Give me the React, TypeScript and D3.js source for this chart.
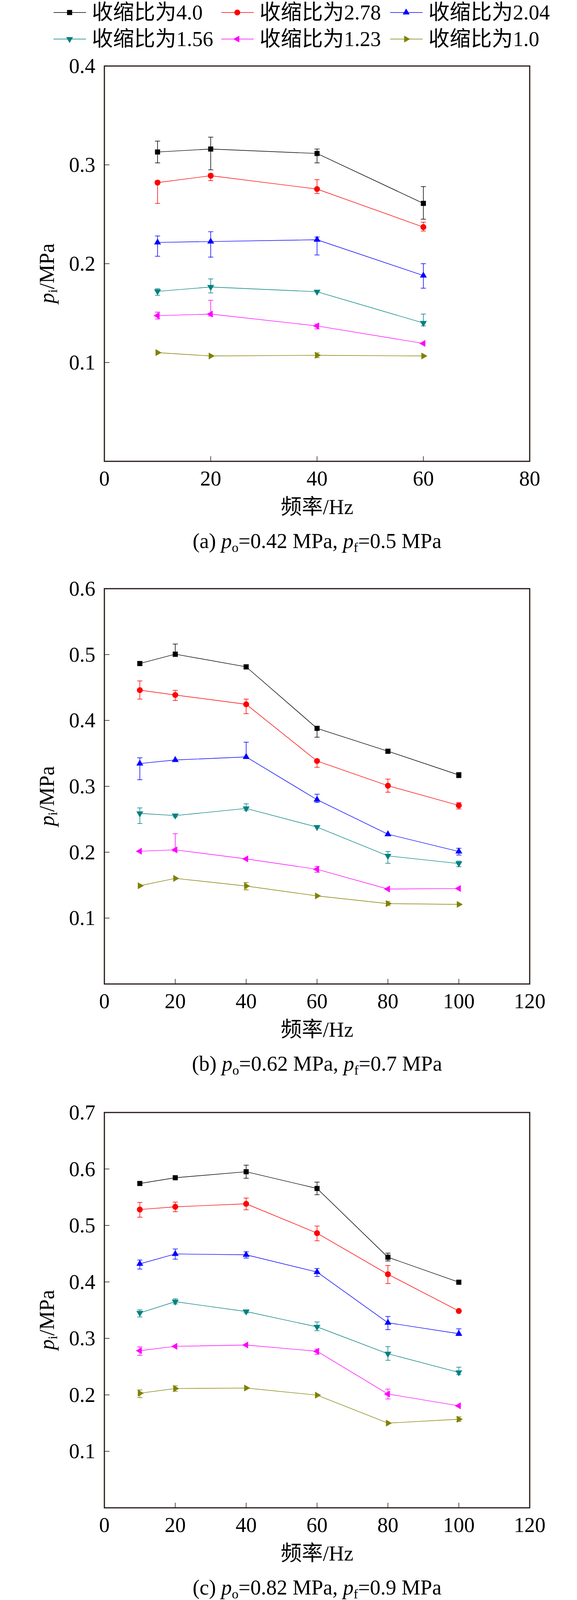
import { useEffect } from "react";
import * as d3 from "d3";

// series names / colours (legend order)
const seriesNames = ["收缩比为4.0", "收缩比为2.78", "收缩比为2.04", "收缩比为1.56", "收缩比为1.23", "收缩比为1.0"];
const seriesColors = ["#000000", "#ff0000", "#0000ff", "#008080", "#ff00ff", "#808000"];
const seriesShapes = ["square", "circle", "up", "down", "left", "right"];

// panel (a)
const freqA = [10, 20, 40, 60];
const valA = [
  [0.313, 0.316, 0.3115, 0.261],
  [0.282, 0.289, 0.2755, 0.237],
  [0.2215, 0.2224, 0.2242, 0.188],
  [0.172, 0.1764, 0.1716, 0.14],
  [0.1474, 0.149, 0.137, 0.1193],
  [0.11, 0.1066, 0.1073, 0.1066],
];
const hiA = [
  [0.324, 0.328, 0.316, 0.278],
  [0.284, 0.291, 0.285, 0.242],
  [0.228, 0.2323, 0.227, 0.2],
  [0.1746, 0.1846, null, 0.149],
  [0.151, 0.163, 0.139, null],
  [null, null, 0.1097, null],
];
const loA = [
  [0.302, 0.295, 0.302, 0.245],
  [0.261, 0.284, 0.271, 0.233],
  [0.2075, 0.2066, 0.2088, 0.1752],
  [0.168, 0.1704, null, 0.137],
  [0.144, 0.147, 0.134, null],
  [null, null, 0.1049, null],
];

// panel (b)
const freqB = [10, 20, 40, 60, 80, 100];
const valB = [
  [0.4864, 0.5006, 0.4814, 0.388, 0.3533, 0.3172],
  [0.446, 0.4386, 0.4245, 0.3384, 0.301, 0.271],
  [0.3346, 0.34, 0.3446, 0.2797, 0.2273, 0.2011],
  [0.2589, 0.2556, 0.2664, 0.2381, 0.1944, 0.1828],
  [0.2015, 0.2036, 0.1899, 0.1741, 0.1441, 0.1449],
  [0.1491, 0.1603, 0.1487, 0.1337, 0.122, 0.1208],
];
const hiB = [
  [0.489, 0.516, 0.484, 0.391, 0.3565, 0.321],
  [0.46, 0.4457, 0.4324, 0.341, 0.311, 0.2752],
  [0.3433, null, 0.367, 0.288, null, 0.206],
  [0.2672, 0.2575, 0.2735, null, 0.2011, 0.1865],
  [null, 0.2281, null, 0.1786, null, null],
  [null, null, 0.154, null, 0.1254, null],
];
const loB = [
  [0.483, 0.497, 0.478, 0.3745, 0.35, 0.313],
  [0.4324, 0.4303, 0.4103, 0.3288, 0.291, 0.2656],
  [0.31, null, 0.342, 0.2755, null, 0.1957],
  [0.2435, 0.2535, 0.2635, null, 0.1832, 0.178],
  [null, 0.2015, null, 0.1695, null, null],
  [null, null, 0.1428, null, 0.119, null],
];

// panel (c)
const freqC = [10, 20, 40, 60, 80, 100];
const valC = [
  [0.5743, 0.5845, 0.5951, 0.5655, 0.4437, 0.3995],
  [0.5282, 0.533, 0.5383, 0.4864, 0.4136, 0.3485],
  [0.432, 0.4495, 0.448, 0.4175, 0.3277, 0.3083],
  [0.3451, 0.365, 0.3476, 0.3204, 0.2728, 0.2398],
  [0.2782, 0.2859, 0.2883, 0.2772, 0.2015, 0.1806],
  [0.2029, 0.2112, 0.2121, 0.1995, 0.15, 0.1568],
];
const hiC = [
  [null, null, 0.6068, 0.5767, 0.451, null],
  [0.5408, 0.5413, 0.5485, 0.499, 0.4291, null],
  [0.4388, 0.4583, 0.4534, 0.4238, 0.3388, 0.317],
  [0.3505, 0.37, 0.35, 0.3291, 0.2854, 0.249],
  [0.285, null, null, 0.2811, 0.2102, null],
  [0.2087, 0.216, null, null, null, 0.161],
];
const loC = [
  [null, null, 0.5835, 0.5544, 0.437, null],
  [0.5146, 0.5243, 0.5277, 0.4728, 0.3971, null],
  [0.4228, 0.4403, 0.4422, 0.4097, 0.3155, 0.305],
  [0.3379, 0.361, 0.345, 0.3136, 0.2612, 0.236],
  [0.2699, null, null, 0.2718, 0.1927, null],
  [0.1951, 0.2063, null, null, null, 0.153],
];

// panel (d)
const freqD = [20, 40, 60, 80, 100];
const valD = [
  [0.6767, 0.6772, 0.6443, 0.4901, null],
  [0.6263, 0.6312, 0.6011, 0.4533, 0.4179],
  [0.5182, 0.5109, 0.478, 0.3825, 0.3355],
  [0.4387, 0.4208, 0.4024, 0.3112, 0.2482],
  [0.3205, 0.2982, 0.2982, 0.2293, 0.1857],
  [0.241, 0.2264, 0.2133, 0.1707, 0.146],
];
const hiD = [
  [null, null, null, 0.5032, null],
  [0.6312, null, 0.6147, 0.4693, 0.4276],
  [null, 0.5221, 0.4887, null, 0.3752],
  [0.4436, null, null, 0.3277, null],
  [0.3331, null, null, 0.2315, 0.193],
  [null, 0.2285, null, 0.1799, null],
];
const loD = [
  [null, null, 0.6249, null, null],
  [0.6161, null, null, null, null],
  [null, null, null, null, null],
  [0.4339, null, null, null, null],
  [0.3083, null, null, 0.227, null],
  [null, 0.2245, null, null, null],
];

const xMaxes = [80, 120, 120, 120];
const yMaxes = [0.4, 0.6, 0.7, 0.7];
const captionLabels = ["(a)", "(b)", "(c)", "(d)"];
const poValues = ["0.42", "0.62", "0.82", "1.02"];
const pfValues = ["0.5", "0.7", "0.9", "1.0"];

const panels = [
  { freq: freqA, val: valA, hi: hiA, lo: loA },
  { freq: freqB, val: valB, hi: hiB, lo: loB },
  { freq: freqC, val: valC, hi: hiC, lo: loC },
  { freq: freqD, val: valD, hi: hiD, lo: loD },
];

const W = 1476;
const H = 5481;
const left = 267;
const right = 1355;
const tops = [169, 1507, 2848, 4223];
const plotH = 1012;
const font = "'Liberation Serif', 'Times New Roman', 'Noto Sans CJK SC', serif";
const frameColor = "#231815";

const symbolPath = (shape: string) => {
  if (shape === "square") return d3.symbol(d3.symbolSquare, 169)()!;
  if (shape === "circle") return d3.symbol(d3.symbolCircle, 180)()!;
  return d3.symbol(d3.symbolTriangle, 135)()!;
};
const rotation: Record<string, number> = { square: 0, circle: 0, up: 0, down: 180, left: -90, right: 90 };

function Marker({ x, y, i }: { x: number; y: number; i: number }) {
  const shape = seriesShapes[i];
  return (
    <path
      d={symbolPath(shape)}
      transform={`translate(${x},${y}) rotate(${rotation[shape]})`}
      fill={seriesColors[i]}
    />
  );
}

function Panel({ p, k }: { p: (typeof panels)[number]; k: number }) {
  const top = tops[k];
  const bottom = top + plotH;
  const x = d3.scaleLinear().domain([0, xMaxes[k]]).range([left, right]);
  const y = d3.scaleLinear().domain([0, yMaxes[k]]).range([bottom, top]);
  const xTicks = d3.range(0, xMaxes[k] + 1, 20);
  const yTicks = d3.range(1, Math.round(yMaxes[k] * 10) + 1).map((d) => d / 10);
  const line = d3
    .line<number | null>()
    .defined((d) => d !== null)
    .x((_, j) => x(p.freq[j]))
    .y((d) => y(d as number));
  const cx = (left + right) / 2;

  return (
    <g>
      {/* series lines + error bars + markers */}
      {p.val.map((vals, i) => (
        <g key={i}>
          <path d={line(vals) ?? ""} fill="none" stroke={seriesColors[i]} strokeWidth={1.4} />
          {vals.map((v, j) => {
            if (v === null) return null;
            const hi = p.hi[i][j];
            const lo = p.lo[i][j];
            const px = x(p.freq[j]);
            return (
              <g key={j} stroke={seriesColors[i]} strokeWidth={1.5}>
                {hi !== null && (
                  <>
                    <line x1={px} x2={px} y1={y(v)} y2={y(hi)} />
                    <line x1={px - 6.5} x2={px + 6.5} y1={y(hi)} y2={y(hi)} />
                  </>
                )}
                {lo !== null && (
                  <>
                    <line x1={px} x2={px} y1={y(v)} y2={y(lo)} />
                    <line x1={px - 6.5} x2={px + 6.5} y1={y(lo)} y2={y(lo)} />
                  </>
                )}
              </g>
            );
          })}
          {vals.map((v, j) => (v === null ? null : <Marker key={j} x={x(p.freq[j])} y={y(v)} i={i} />))}
        </g>
      ))}

      {/* frame + ticks */}
      <rect x={left} y={top} width={right - left} height={plotH} fill="none" stroke={frameColor} strokeWidth={3} />
      {xTicks.slice(1, -1).map((t) => (
        <line key={t} x1={x(t)} x2={x(t)} y1={bottom} y2={bottom - 13} stroke={frameColor} strokeWidth={1.5} />
      ))}
      {yTicks.slice(0, -1).map((t) => (
        <line key={t} x1={left} x2={left + 13} y1={y(t)} y2={y(t)} stroke={frameColor} strokeWidth={1.5} />
      ))}

      {/* tick labels */}
      {xTicks.map((t) => (
        <text key={t} x={x(t)} y={bottom + 62} textAnchor="middle" fontSize={54}>
          {t}
        </text>
      ))}
      {yTicks.map((t) => (
        <text key={t} x={left - 23} y={y(t)} textAnchor="end" dominantBaseline="central" fontSize={54}>
          {t.toFixed(1)}
        </text>
      ))}

      {/* axis titles */}
      <text transform={`translate(138,${(top + bottom) / 2 + 25}) rotate(-90)`} textAnchor="middle" fontSize={54}>
        <tspan fontStyle="italic">p</tspan>
        <tspan fontSize={34} dy={8}>i</tspan>
        <tspan dy={-8}>/MPa</tspan>
      </text>
      <text x={cx} y={bottom + 135} textAnchor="middle" fontSize={54}>
        频率/Hz
      </text>

      {/* caption */}
      <text x={cx} y={bottom + 222} textAnchor="middle" fontSize={54}>
        {captionLabels[k]} <tspan fontStyle="italic">p</tspan>
        <tspan fontSize={34} dy={10}>o</tspan>
        <tspan dy={-10}>={poValues[k]} MPa, </tspan>
        <tspan fontStyle="italic">p</tspan>
        <tspan fontSize={34} dy={10}>f</tspan>
        <tspan dy={-10}>={pfValues[k]} MPa</tspan>
      </text>
    </g>
  );
}

const legendCols = [137, 566, 998];
const legendRows = [32, 100];

export default function App() {
  useEffect(() => {
    document.body.style.margin = "0";
  }, []);

  return (
    <svg width={W} height={H} style={{ display: "block", background: "#fff" }} fontFamily={font}>
      <rect width={W} height={H} fill="#fff" />
      {seriesNames.map((name, i) => {
        const lx = legendCols[i % 3];
        const ly = legendRows[Math.floor(i / 3)];
        return (
          <g key={name}>
            <line x1={lx} x2={lx + 83} y1={ly} y2={ly} stroke={seriesColors[i]} strokeWidth={1.5} />
            <Marker x={lx + 41} y={ly} i={i} />
            <text x={lx + 98} y={ly} dominantBaseline="central" fontSize={54}>
              {name}
            </text>
          </g>
        );
      })}
      {panels.map((p, k) => (
        <Panel key={k} p={p} k={k} />
      ))}
    </svg>
  );
}
